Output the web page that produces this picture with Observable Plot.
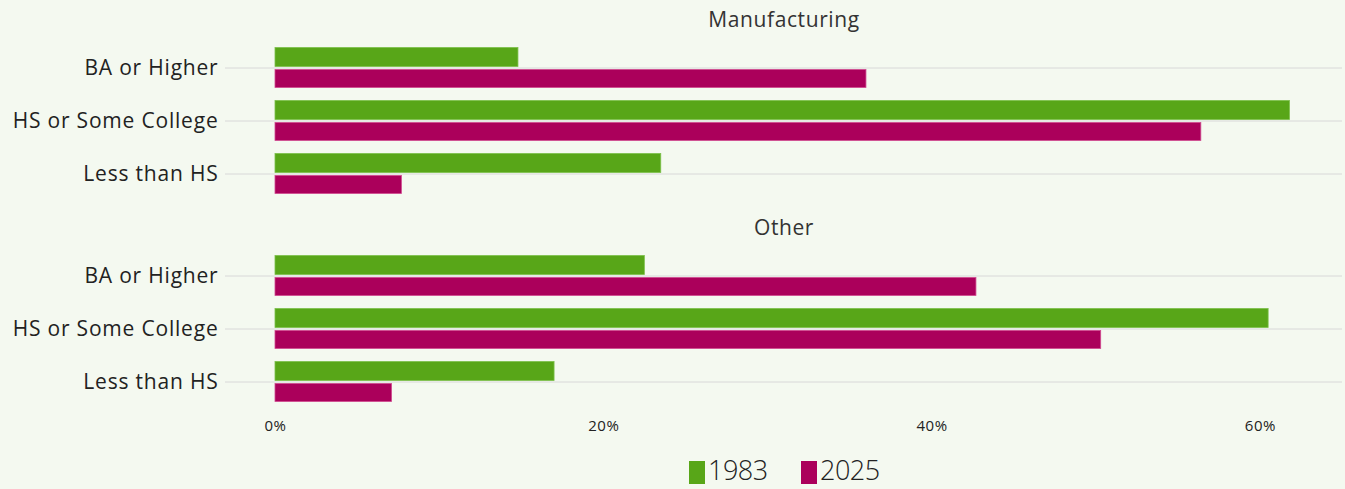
<!DOCTYPE html>
<html>
<head>
<meta charset="utf-8">
<script src="https://cdn.jsdelivr.net/npm/d3@7"></script>
<script src="https://cdn.jsdelivr.net/npm/@observablehq/plot@0.6"></script>
<style>
  html, body { margin: 0; padding: 0; background: #f4f9f0; }
  body { width: 1345px; height: 489px; overflow: hidden; font-family: "Open Sans", "Lato", sans-serif; }
  #legend { position: relative; height: 49px; }
  .sw { position: absolute; top: 21px; width: 16px; height: 23px; }
  .lt { position: absolute; top: 13px; font-size: 27px; color: #222; font-weight: 300; line-height: 34px; letter-spacing: -0.5px; }
  g[aria-label="y-axis tick label"] text { letter-spacing: 0.8px; }
  g[aria-label="x-axis tick label"] text { letter-spacing: 0.6px; }
  g[aria-label="text"] text { letter-spacing: 0.6px; }
</style>
</head>
<body>
<div id="chart"></div>
<div id="legend"></div>
<script>
const panels = ["Manufacturing", "Other"];
const categories = ["BA or Higher", "HS or Some College", "Less than HS"];
const years = ["1983", "2025"];
const colors = ["#58a618", "#ab005b"];
const manufacturing1983 = [14.8, 61.8, 23.5];
const manufacturing2025 = [36.0, 56.4, 7.7];
const other1983 = [22.5, 60.5, 17.0];
const other2025 = [42.7, 50.3, 7.1];
const xTicks = [0, 20, 40, 60];

const rows = [];
categories.forEach((c, i) => {
  rows.push({panel: "Manufacturing", category: c, year: "1983", value: manufacturing1983[i]});
  rows.push({panel: "Manufacturing", category: c, year: "2025", value: manufacturing2025[i]});
  rows.push({panel: "Other", category: c, year: "1983", value: other1983[i]});
  rows.push({panel: "Other", category: c, year: "2025", value: other2025[i]});
});

const chart = Plot.plot({
  width: 1345,
  height: 440,
  marginLeft: 275,
  marginRight: 3,
  marginTop: 41,
  marginBottom: 32,
  style: {background: "transparent", fontFamily: "'Open Sans', Lato, sans-serif"},
  x: {domain: [0, 65], ticks: xTicks, tickFormat: d => d + "%", label: null},
  y: {domain: categories, padding: 0, label: null},
  fy: {domain: panels, paddingInner: 49 / 208, paddingOuter: 0, axis: null, label: null},
  color: {domain: years, range: colors},
  marks: [
    Plot.gridY({stroke: "#d8d8d8", strokeOpacity: 1}),
    Plot.axisY({tickSize: 50, tickPadding: 7, stroke: "#d8d8d8", fontSize: 21, fill: "#222", label: null}),
    Plot.axisX({ticks: xTicks, tickFormat: d => d + "%", tickSize: 0, tickPadding: 12, fontSize: 15, fill: "#222", label: null}),
    Plot.barX(rows.filter(d => d.year === "1983"), {
      x: "value", y: "category", fy: "panel", fill: d => d.year,
      insetTop: 6.5, insetBottom: 27.5, stroke: "#7cc04a", strokeWidth: 0.8
    }),
    Plot.barX(rows.filter(d => d.year === "2025"), {
      x: "value", y: "category", fy: "panel", fill: d => d.year,
      insetTop: 28.5, insetBottom: 6.5, stroke: "#d04a90", strokeWidth: 0.8
    }),
    Plot.text(panels, {
      fy: d => d, text: d => d, frameAnchor: "top", dy: -21, dx: -25,
      fontSize: 21, fill: "#333", lineAnchor: "middle"
    })
  ]
});
document.getElementById("chart").appendChild(chart);

const legend = document.getElementById("legend");
const lx = [689, 801];
years.forEach((y, i) => {
  const sw = document.createElement("div");
  sw.className = "sw";
  sw.style.left = lx[i] + "px";
  sw.style.background = colors[i];
  legend.appendChild(sw);
  const t = document.createElement("div");
  t.className = "lt";
  t.style.left = (lx[i] + 19) + "px";
  t.textContent = y;
  legend.appendChild(t);
});
</script>
</body>
</html>
